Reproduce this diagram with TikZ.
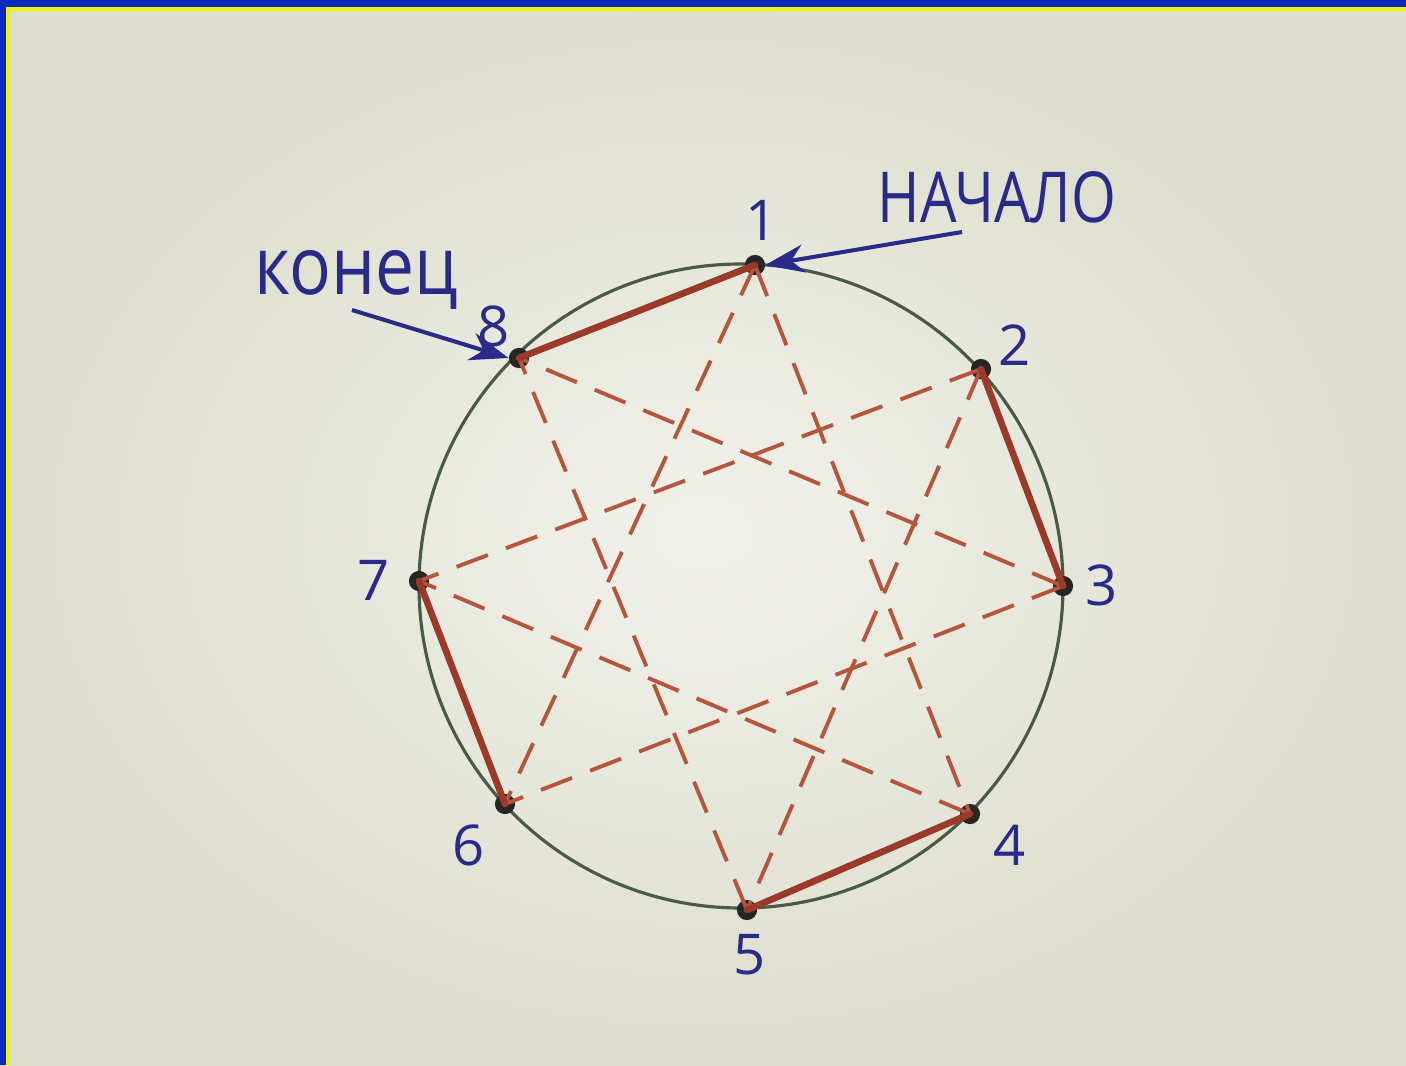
\documentclass[tikz,border=0pt]{standalone}
\usepackage{fontspec}
\setmainfont{Open Sans}
\usetikzlibrary{arrows.meta}
\definecolor{paper}{HTML}{DCDDCC}
\definecolor{paperlight}{HTML}{F2F2EC}
\definecolor{frameblue}{HTML}{0A2BC0}
\definecolor{frameyellow}{HTML}{F5F000}
\definecolor{ink}{HTML}{2A2A88}
\definecolor{redline}{HTML}{9C3A2A}
\definecolor{reddash}{HTML}{B4553C}
\definecolor{circlecol}{HTML}{4A5A44}
\tikzset{
  pt/.style={circle, fill=black!85, inner sep=0pt, minimum size=11.5pt},
  solidedge/.style={redline, line width=3.8pt, line cap=round},
  dashedge/.style={reddash, line width=2.2pt, dash pattern=on 19pt off 11pt},
  lbl/.style={text=ink, font=\fontsize{32}{36}\selectfont, inner sep=0pt},
  word/.style={text=ink, inner sep=0pt},
  pointer/.style={ink, line width=2.3pt, -{Stealth[length=22pt, width=16pt]}}
}
\begin{document}
\begin{tikzpicture}[x=0.02cm, y=-0.02cm]
\useasboundingbox (0,0) rectangle (1406,1065);
\shade[inner color=paperlight, outer color=paper] (0,0) rectangle (1406,1065);
\fill[frameblue] (0,0) rectangle (1406,7);
\fill[frameblue] (0,0) rectangle (6,1065);
\fill[frameyellow] (6,7) rectangle (1406,11);
\fill[frameyellow] (6,7) rectangle (10,1065);

\coordinate (c) at (741,586);
\draw[circlecol, line width=1.8pt] (c) circle [radius=322];

\node[pt] (p1) at (755,265) {};
\node[pt] (p2) at (981,369) {};
\node[pt] (p3) at (1063,586) {};
\node[pt] (p4) at (970,814) {};
\node[pt] (p5) at (747,910) {};
\node[pt] (p6) at (505,804) {};
\node[pt] (p7) at (419,581) {};
\node[pt] (p8) at (519,358) {};

\foreach \a/\b in {1/4,1/6,2/5,2/7,3/6,3/8,4/7,5/8}
  \draw[dashedge] (p\a.center) -- (p\b.center);
\foreach \a/\b in {1/8,2/3,4/5,6/7}
  \draw[solidedge] (p\a.center) -- (p\b.center);

\node[lbl] (l1) at (762,220) {1};
\node[lbl] (l2) at (1015,345) {2};
\node[lbl] (l3) at (1102,585) {3};
\node[lbl] (l4) at (1010,845) {4};
\node[lbl] (l5) at (750,955) {5};
\node[lbl] (l6) at (469,845) {6};
\node[lbl] (l7) at (374,580) {7};
\node[lbl] (l8) at (494,326) {8};

\node[word, font=\fontsize{40}{44}\selectfont] (start) at (997,197) {\scalebox{0.82}[1]{НАЧАЛО}};
\node[word, font=\fontsize{46}{50}\selectfont] (finish) at (356,280) {\scalebox{0.86}[1]{конец}};

\coordinate (sa) at (962,232);
\coordinate (fa) at (352,310);
\draw[pointer] (sa) -- (p1.east);
\draw[pointer] (fa) -- (p8.west);
\end{tikzpicture}
\end{document}
